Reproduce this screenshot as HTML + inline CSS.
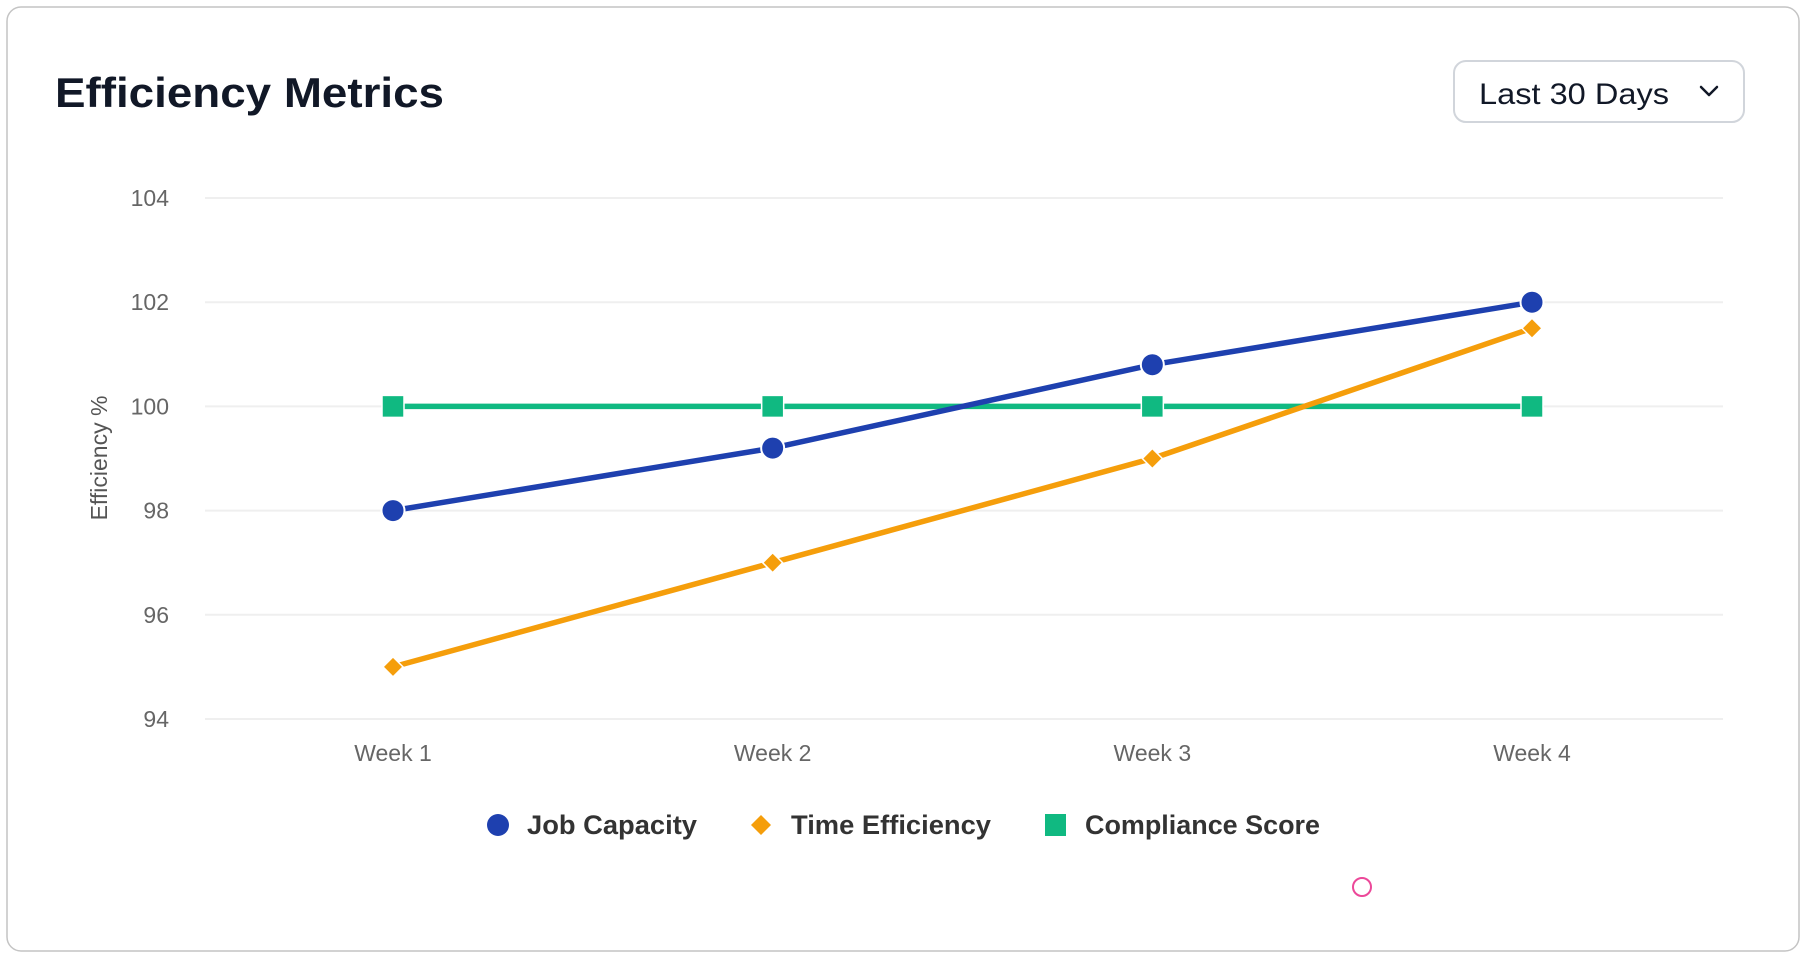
<!DOCTYPE html>
<html><head><meta charset="utf-8"><style>
html,body{margin:0;padding:0;background:#fff;}
svg{display:block;font-family:"Liberation Sans",Arial,sans-serif;}
</style></head><body>
<svg width="1806" height="956" viewBox="0 0 1806 956">
<rect x="7" y="7" width="1792" height="944" rx="14" fill="#fff" stroke="#c4c4c4" stroke-width="1.5"/>
<text x="55" y="107" font-size="42" font-weight="bold" fill="#111827" textLength="389" lengthAdjust="spacingAndGlyphs">Efficiency Metrics</text>
<g>
<rect x="1454" y="61" width="290" height="61" rx="12" fill="#fff" stroke="#d1d5db" stroke-width="2"/>
<text x="1479" y="104" font-size="30" fill="#111827" textLength="190" lengthAdjust="spacingAndGlyphs">Last 30 Days</text>
<path d="M1701 87 L1709 95 L1717 87" fill="none" stroke="#111827" stroke-width="2.5" stroke-linecap="round" stroke-linejoin="round"/>
</g>
<g id="grid"></g>
<g id="yt"></g>
<g id="xt"></g>
<text transform="translate(107,458) rotate(-90)" text-anchor="middle" font-size="23" fill="#555">Efficiency %</text>
<g id="series"></g>
<g>
<g>
<circle cx="498" cy="825" r="11" fill="#1e40af"/>
<text x="527" y="834" font-size="27" font-weight="bold" fill="#333" textLength="170" lengthAdjust="spacingAndGlyphs">Job Capacity</text></g>
<g>
<path d="M761 815 L771 825 L761 835 L751 825Z" fill="#f59e0b"/>
<text x="791" y="834" font-size="27" font-weight="bold" fill="#333" textLength="200" lengthAdjust="spacingAndGlyphs">Time Efficiency</text></g>
<g>
<rect x="1045" y="814" width="21" height="22" fill="#10b981"/>
<text x="1085" y="834" font-size="27" font-weight="bold" fill="#333" textLength="235" lengthAdjust="spacingAndGlyphs">Compliance Score</text></g>
</g>
<circle cx="1362" cy="887" r="9" fill="none" stroke="#ec4899" stroke-width="2"/>
</svg>
<script>
const categories=["Week 1","Week 2","Week 3","Week 4"];
const jobCapacity=[98,99.2,100.8,102];
const timeEfficiency=[95,97,99,101.5];
const complianceScore=[100,100,100,100];
const yTicks=[94,96,98,100,102,104];
const NS="http://www.w3.org/2000/svg";
const x0=393,x1=1532,yMin=94,yMax=104,py0=719,py1=198;
function xs(i){return x0+(x1-x0)*i/(categories.length-1);}
function ys(v){return py0-(v-yMin)/(yMax-yMin)*(py0-py1);}
function mk(tag,attrs,parent){const e=document.createElementNS(NS,tag);for(const k in attrs)e.setAttribute(k,attrs[k]);parent.appendChild(e);return e;}
const grid=document.getElementById('grid'),yt=document.getElementById('yt'),xt=document.getElementById('xt'),ser=document.getElementById('series');
yTicks.forEach(v=>{
 const l=mk('line',{x1:205,x2:1723,y1:ys(v),y2:ys(v),stroke:'#efefef','stroke-width':2},grid);
 
 
 const t=mk('text',{x:169,y:ys(v)+8,'text-anchor':'end','font-size':23,fill:'#666'},yt);
 t.textContent=v;
 
 
});
categories.forEach((c,i)=>{
 const t=mk('text',{x:xs(i),y:761,'text-anchor':'middle','font-size':23,fill:'#666'},xt);
 t.textContent=c;
 
 
});
function line(data,color,name,marker){
 const g=mk('g',{},ser);
 
 
 const p=mk('polyline',{points:data.map((v,i)=>xs(i)+','+ys(v)).join(' '),fill:'none',stroke:color,'stroke-width':5.5,'stroke-linejoin':'round'},g);
 
 
 data.forEach((v,i)=>{
  const x=xs(i),y=ys(v);let m;
  if(marker==='circle')m=mk('circle',{cx:x,cy:y,r:11.5,fill:color,stroke:'#fff','stroke-width':2},g);
  else if(marker==='diamond')m=mk('path',{d:`M${x} ${y-10}L${x+10} ${y}L${x} ${y+10}L${x-10} ${y}Z`,fill:color,stroke:'#fff','stroke-width':1.5},g);
  else m=mk('rect',{x:x-11,y:y-11,width:22,height:22,fill:color,stroke:'#fff','stroke-width':1.5},g);
  
  
 });
}
line(complianceScore,'#10b981','compliance-score','square');
line(timeEfficiency,'#f59e0b','time-efficiency','diamond');
line(jobCapacity,'#1e40af','job-capacity','circle');
</script>
</body></html>
